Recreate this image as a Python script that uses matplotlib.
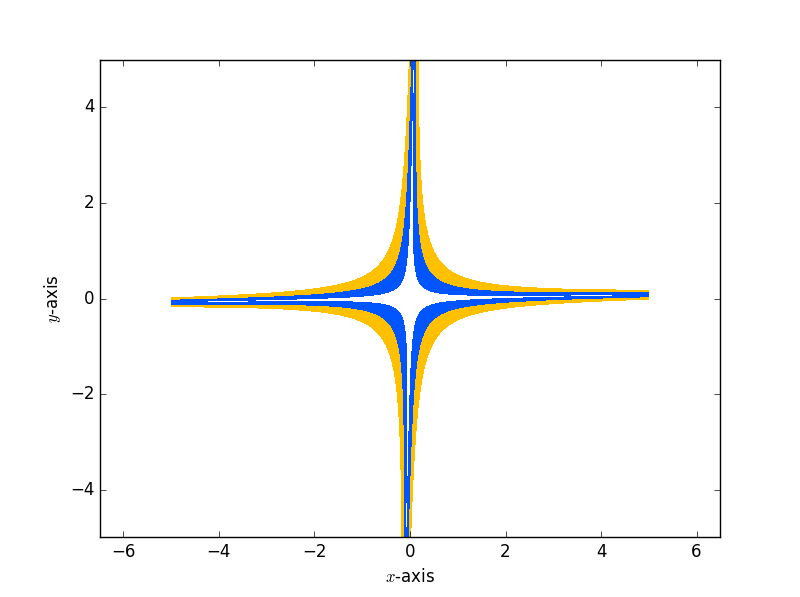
import numpy as np
import matplotlib
matplotlib.use('Agg')
import matplotlib.pyplot as plt
from matplotlib.patches import Polygon

plt.style.use('classic')

# band levels (x*y = c)
blue_levels = [0.065, 0.22]
orange_levels = [0.22, 0.47]
band_colors = ['#0055ff', '#ffc000']
shear = 0.016          # arms tilt slightly: asymptotes y = m*x and x = m*y
x_range = [-5, 5]      # horizontal arms are cut here
xlim = [-6.49, 6.49]
ylim = [-5, 5]


def band_polygon(c_lo, c_hi, sx, sy):
    # one quadrant of the band between the hyperbolas u*v = c_lo and u*v = c_hi
    u = np.logspace(-3, np.log10(6), 3000)
    uu = np.concatenate([u, u[::-1]])
    vv = np.concatenate([c_hi / u, (c_lo / u)[::-1]])
    uu = sx * uu
    vv = sy * vv
    X = uu + shear * vv
    Y = vv + shear * uu
    return X, Y


fig = plt.figure(figsize=(8, 5.97), dpi=100, facecolor='white')
ax = fig.add_subplot(111)

x0, x1 = x_range
clip = Polygon([[x0, -1000], [x1, -1000], [x1, 1000], [x0, 1000]],
               closed=True, transform=ax.transData)

for levels, col in [(orange_levels, band_colors[1]), (blue_levels, band_colors[0])]:
    for sx, sy in [(1, 1), (-1, 1), (1, -1), (-1, -1)]:
        X, Y = band_polygon(levels[0], levels[1], sx, sy)
        patch, = ax.fill(X, Y, color=col, linewidth=0, antialiased=False)
        patch.set_clip_path(clip)

ax.set_xlim(xlim)
ax.set_ylim(ylim)
ax.set_xlabel('$x$-axis')
ax.set_ylabel('$y$-axis')

fig.savefig('out.png', dpi=100, facecolor='white')
